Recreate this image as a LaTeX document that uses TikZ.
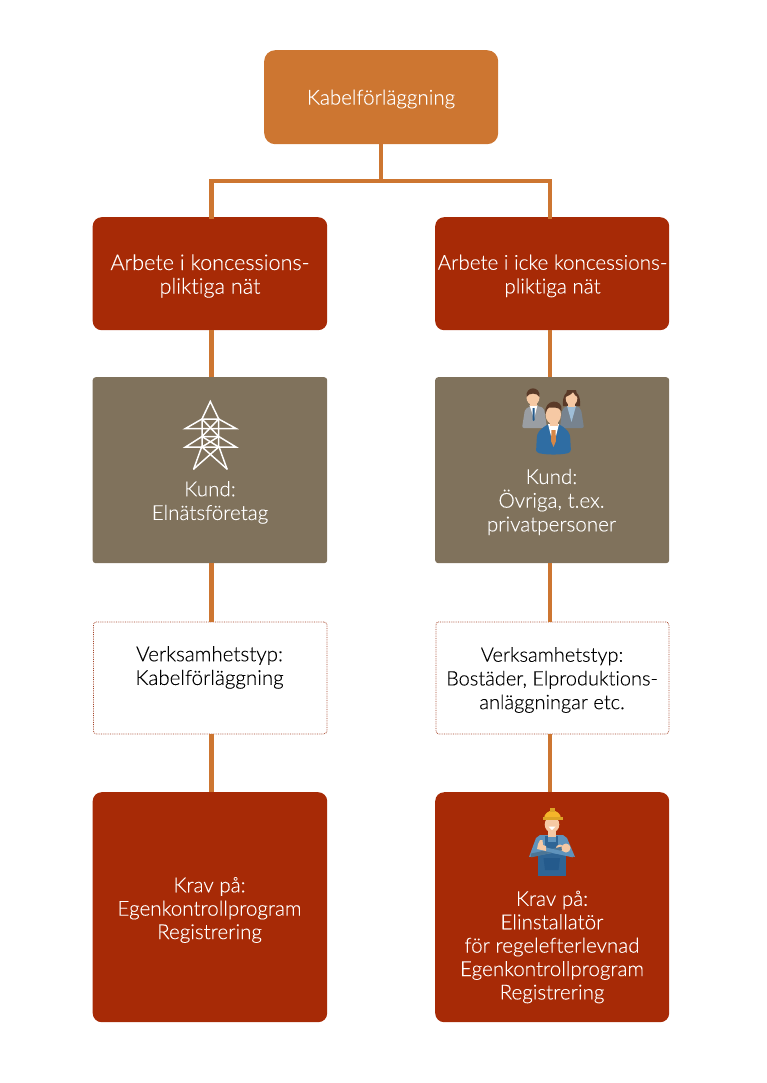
\documentclass[tikz,border=0pt]{standalone}
\usepackage{fontspec}
\setmainfont{Lato Light}[Ligatures=NoCommon,FakeBold=0.12]
\definecolor{orangeb}{HTML}{CD7631}
\definecolor{redb}{HTML}{A72A06}
\definecolor{brownb}{HTML}{80725C}
\definecolor{dotc}{HTML}{A5452A}
\definecolor{suitb}{HTML}{2F6DA3}
\definecolor{suitbd}{HTML}{245A8C}
\definecolor{suitg}{HTML}{9A9EA3}
\definecolor{suitgb}{HTML}{77838F}
\definecolor{skin}{HTML}{F6C9A4}
\definecolor{hairb}{HTML}{5A3A28}
\definecolor{hatc}{HTML}{F5B52A}
\definecolor{overall}{HTML}{2F6595}
\definecolor{shirtc}{HTML}{5F93BC}
\tikzset{
  x=1pt,y=-1pt,
  box/.style={anchor=north west,rounded corners=#1,inner sep=0pt},
  box/.default=7pt,
  bigbox/.style={box=9pt,fill=redb},
  txt/.style={align=center,inner sep=0pt,font=\fontsize{20.6}{23.7}\selectfont},
  txtw/.style={txt,text=white},
  txtk/.style={txt,text=black},
  dotbox/.style={box=3pt,draw=dotc,densely dotted,line width=0.8pt,fill=white},
  link/.style={draw=orangeb,line width=4.2pt},
  pyl/.style={draw=white,line width=1.5pt,line join=miter,line cap=round},
}
\newcommand{\bx}[5]{\node[#1,minimum width=#4pt,minimum height=#5pt] (#2) at #3 {};}
\begin{document}
\begin{tikzpicture}
\useasboundingbox (0,0) rectangle (766,1083);
% boxes
\bx{box=11pt,fill=orangeb}{top}{(264,50)}{234}{94}
\bx{bigbox}{la}{(92.5,217)}{234.5}{113}
\bx{bigbox}{ra}{(435,217)}{234}{113}
\bx{box=3pt,fill=brownb}{lb}{(92.5,377)}{234.5}{186}
\bx{box=3pt,fill=brownb}{rb}{(435,377)}{234}{186}
\bx{dotbox}{lc}{(93,621.5)}{233.5}{112}
\bx{dotbox}{rc}{(435.5,621.5)}{233}{112}
\bx{bigbox}{ld}{(92.5,792)}{234.5}{230}
\bx{bigbox}{rd}{(435,792)}{234}{230}
% texts
\node[txtw] (topt) at (381,99) {Kabelförläggning};
\node[txtw,font=\fontsize{21.6}{23.7}\selectfont] (lat) at (210,276) {Arbete i koncessions-\\pliktiga nät};
\node[txtw,font=\fontsize{20.6}{23.7}\selectfont] (rat) at (552.5,276) {Arbete i icke koncessions-\\pliktiga nät};
\node[txtw] (lbt) at (210,502.5) {Kund:\\Elnätsföretag};
\node[txtw] (rbt) at (551.5,502) {Kund:\\Övriga, t.ex.\\privatpersoner};
\node[txtk] (lct) at (209.5,667.5) {Verksamhetstyp:\\Kabelförläggning};
\node[txtk,font=\fontsize{20}{23.7}\selectfont] (rct) at (552,680) {Verksamhetstyp:\\Bostäder, Elproduktions-\\anläggningar etc.};
\node[txtw,font=\fontsize{20.6}{23.4}\selectfont] (ldt) at (209.5,910) {Krav på:\\Egenkontrollprogram\\Registrering};
\node[txtw,font=\fontsize{20.6}{23.4}\selectfont] (rdt) at (552,947) {Krav på:\\Elinstallatör\\för regelefterlevnad\\Egenkontrollprogram\\Registrering};
% connectors
\coordinate (j) at (381,181);
\coordinate (jl) at (211.5,181);
\coordinate (jr) at (549.7,181);
\draw[link] (top.south -| j) -- (j);
\draw[link,line cap=rect] (la.north -| jl) -- (jl) -- (jr) -- (ra.north -| jr);
\draw[link] (la.south -| jl) -- (lb.north -| jl);
\draw[link] (lb.south -| jl) -- (lc.north -| jl);
\draw[link] (lc.south -| jl) -- (ld.north -| jl);
\draw[link] (ra.south -| jr) -- (rb.north -| jr);
\draw[link] (rb.south -| jr) -- (rc.north -| jr);
\draw[link] (rc.south -| jr) -- (rd.north -| jr);
% pylon
\draw[pyl] (193.7,469) -- (202,446) -- (202,419) -- (210.3,401.5) -- (218.7,419) -- (218.7,446) -- (227,469);
\draw[pyl] (185.5,428.5) -- (202,419) -- (218.7,419) -- (236,428.5) -- cycle;
\draw[pyl] (185.5,447) -- (202,436.5) -- (218.7,436.5) -- (236,447) -- cycle;
\draw[pyl] (202,419) -- (218.7,436.5) (218.7,419) -- (202,436.5);
\draw[pyl] (202,436.5) -- (218.7,447) (218.7,436.5) -- (202,447);
\draw[pyl] (202,447) -- (227,469) (218.7,447) -- (193.7,469);
% people: back-left
\fill[suitg,rounded corners=2pt] (522,428) -- (525,409) -- (532,405.5) -- (536,405.5) -- (544,408) -- (547,428) -- cycle;
\fill[white] (529.5,405) -- (534,419) -- (537.5,405) -- cycle;
\fill[suitbd] (532.5,408) -- (534.5,408) -- (534.5,420) -- (533.5,421) -- (532.5,420) -- cycle;
\fill[skin] (530,406) rectangle (537,400);
\fill[skin] (533,397.5) ellipse (6.5pt and 7.5pt);
\fill[hairb] (526.5,397) .. controls (525,385.5) and (541,385.5) .. (539.5,397) .. controls (537,392.5) and (529,392.5) .. (526.5,397) -- cycle;
% people: back-right
\fill[hairb] (563,406) .. controls (561,385) and (582,385) .. (580,406) -- cycle;
\fill[suitgb,rounded corners=2pt] (560,428) -- (562,410) -- (566,406) -- (577,406) -- (581,409) -- (584,428) -- cycle;
\fill[shirtc!60!white] (567,406) -- (571.5,422) -- (576,406) -- cycle;
\fill[skin] (568,406.5) rectangle (575,401);
\fill[skin] (571.5,398.5) ellipse (5.8pt and 7pt);
\fill[hairb] (565.5,397) .. controls (568,396) and (572,394) .. (573,392) .. controls (574,395) and (576,396) .. (577.5,397) -- (576,390) -- (567,390) -- cycle;
% people: front
\fill[suitb,rounded corners=3pt] (536,452.5) -- (537,434) -- (541,429) -- (548,424) -- (559,424) -- (566,429) -- (570,434) -- (571,452.5) .. controls (560,455) and (547,455) .. (536,452.5) -- cycle;
\fill[white] (548,424) -- (553.5,446) -- (559,424) -- cycle;
\fill[orangeb!80!skin] (551.5,430) -- (555.5,430) -- (556,441) -- (553.5,447) -- (551,441) -- cycle;
\fill[skin] (549.5,426) -- (557.5,426) -- (557.5,418) -- (549.5,418) -- cycle;
\fill[skin] (553.3,414.5) ellipse (7.7pt and 9.8pt);
\fill[hairb] (545.5,414) .. controls (543,398) and (564,398) .. (561.5,411) .. controls (558,406) and (552,408) .. (549,407.5) .. controls (547.5,408) and (546.2,411) .. (545.5,414) -- cycle;
% worker
\fill[overall] (538,852) rectangle (565.5,876);
\fill[suitbd] (543.5,858) -- (560,858) -- (558.5,870) -- (545,870) -- cycle;
\fill[shirtc] (540,835) -- (563,835) -- (567,838) -- (575,857) -- (552,853) -- (529,857) -- (536,838) -- cycle;
\fill[overall] (545,836) rectangle (547.5,846);
\fill[overall] (555.5,836) rectangle (558,846);
\fill[overall] (545,842) rectangle (558,850);
\fill[skin] (560,849) circle (4.5pt);
\draw[shirtc!80!black,line width=3.8pt] (531,855.5) -- (562,848.5);
\draw[shirtc,line width=3.8pt] (573,855.5) -- (542,848.5);
\fill[skin] (537,849) -- (538,844) -- (540,840) -- (542.5,840) -- (543,845) -- (546,846) -- (546,851) -- cycle;
\fill[skin] (566,848) circle (4.5pt);
\fill[skin] (548,830) rectangle (556,836.5);
\fill[skin] (552,824.5) ellipse (7.3pt and 8pt);
\fill[hairb!60!skin] (545,820) rectangle (559,819);
\fill[white] (548.5,826.5) -- (555.5,826.5) -- (552,830) -- cycle;
\fill[hatc] (543.5,819) .. controls (543.5,808) and (561,808) .. (561,819) -- cycle;
\fill[hatc!90!black] (549.5,812) rectangle (555,807.8);
\fill[hatc!90!black] (542.5,817) rectangle (562.5,819.5);
\end{tikzpicture}
\end{document}
